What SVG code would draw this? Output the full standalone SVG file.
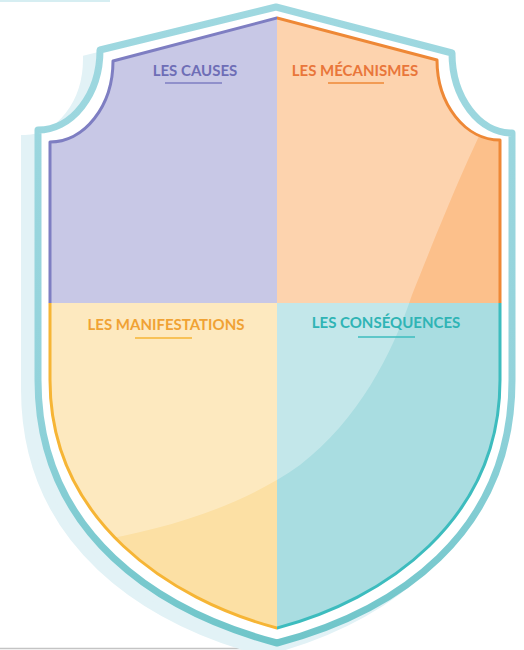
<svg xmlns="http://www.w3.org/2000/svg" width="524" height="650" viewBox="0 0 524 650">
  <style>
    .title { font-family: Lato, "Open Sans", "Liberation Sans", sans-serif; font-weight: 700; font-size: 15px; text-anchor: middle; }
    .ul { stroke-width: 1.6; fill: none; }
  </style>
  <defs>
    <path id="outer" d="M276,7 L100,50 A62,80 0 0 1 38,130 L38,380 C38,535 160,612 277,643 C395,612 512,535 512,380 L512,133 A60,80 0 0 1 452,53 Z"/>
    <path id="inner" d="M277,18 L113,61 A63,81 0 0 1 50,142 L50,380 C50,520 170,600 277,628 C385,600 500,520 500,380 L500,140 A63,80 0 0 1 437,60 Z"/>
    <clipPath id="innerClip"><use href="#inner"/></clipPath>
    <clipPath id="qTL"><rect x="0" y="0" width="277" height="303"/></clipPath>
    <clipPath id="qTR"><rect x="277" y="0" width="247" height="303"/></clipPath>
    <clipPath id="qBL"><rect x="0" y="303" width="277" height="347"/></clipPath>
    <clipPath id="qBR"><rect x="277" y="303" width="247" height="347"/></clipPath>
    <linearGradient id="bandGrad" x1="0" y1="0" x2="0" y2="1">
      <stop offset="0" stop-color="#9fd8e0"/>
      <stop offset="0.6" stop-color="#93d3db"/>
      <stop offset="1" stop-color="#6fc5c9"/>
    </linearGradient>
  </defs>

  <!-- cropped edge fragments -->
  <line x1="0" y1="1" x2="110" y2="1" stroke="#d6eef2" stroke-width="2"/>
  <line x1="0" y1="648.5" x2="278" y2="648.5" stroke="#c4c4c4" stroke-width="1.5"/>

  <g id="shield">
    <!-- soft shadow -->
    <use href="#outer" transform="translate(-13,9)" fill="#e2f2f6" stroke="#e2f2f6" stroke-width="8"/>
    <!-- outer band with white gap -->
    <use href="#outer" fill="#ffffff" stroke="url(#bandGrad)" stroke-width="7" stroke-linejoin="round"/>
  </g>

  <g id="quadrants" clip-path="url(#innerClip)">
    <rect x="0" y="0" width="277" height="303" fill="#b0b0db"/>
    <rect x="277" y="0" width="247" height="303" fill="#fcc08b"/>
    <rect x="0" y="303" width="277" height="347" fill="#fce0a4"/>
    <rect x="277" y="303" width="247" height="347" fill="#a9dde1"/>
    <!-- gloss -->
    <path d="M500,95 C472,145 438,230 412,295 C392,355 358,420 300,465 C230,515 130,540 40,548 L0,548 L0,0 L524,0 L524,95 Z" fill="#ffffff" fill-opacity="0.3"/>
  </g>

  <g id="borders" fill="none" stroke-width="3" stroke-linejoin="round">
    <use href="#inner" stroke="#7e7ec2" clip-path="url(#qTL)"/>
    <use href="#inner" stroke="#ee8836" clip-path="url(#qTR)"/>
    <use href="#inner" stroke="#f6b535" clip-path="url(#qBL)"/>
    <use href="#inner" stroke="#3dbcbe" clip-path="url(#qBR)"/>
  </g>

  <g id="causes">
    <text class="title" x="195" y="76" fill="#6e6eb6">LES CAUSES</text>
    <line class="ul" x1="165" y1="83" x2="222" y2="83" stroke="#7e7ec2"/>
  </g>
  <g id="mecanismes">
    <text class="title" x="355" y="76" fill="#e9763a">LES MÉCANISMES</text>
    <line class="ul" x1="328" y1="83" x2="384" y2="83" stroke="#ee8836"/>
  </g>
  <g id="manifestations">
    <text class="title" x="166" y="330" fill="#f0a234">LES MANIFESTATIONS</text>
    <line class="ul" x1="135" y1="338" x2="192" y2="338" stroke="#f6b535"/>
  </g>
  <g id="consequences">
    <text class="title" x="386" y="328" fill="#2fb4b5">LES CONSÉQUENCES</text>
    <line class="ul" x1="358" y1="337" x2="415" y2="337" stroke="#3dbcbe"/>
  </g>
</svg>
